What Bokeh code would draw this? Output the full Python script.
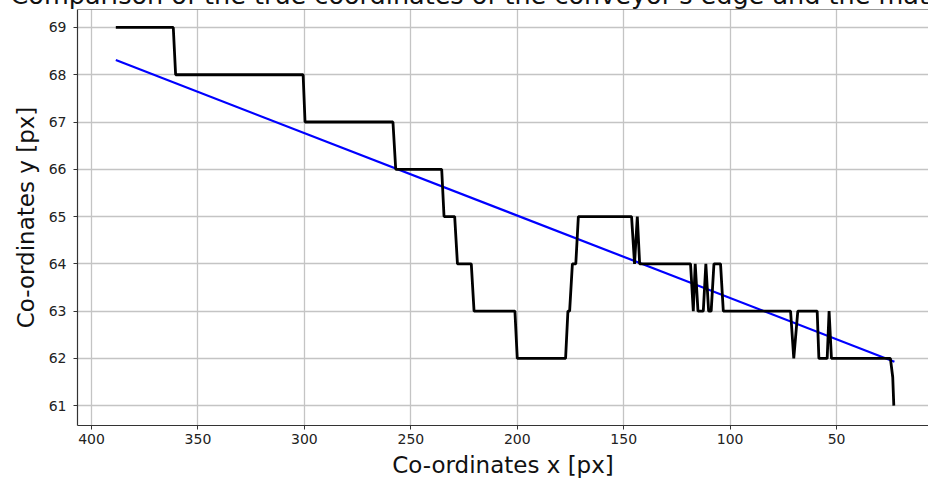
from bokeh.plotting import figure
from bokeh.models import Range1d, FixedTicker, Span
from bokeh.embed import file_html
from bokeh.resources import INLINE

# True co-ordinates of the conveyor edge (step-like trace)
true_x = [388.6, 361.6, 360.5, 300.6, 299.7, 258.4, 257.1, 235.5, 234.4, 229.4,
          228.1, 221.6, 220.3, 201.1, 200.0, 177.3, 176.2, 175.4, 174.1, 172.5,
          171.3, 146.3, 144.9, 143.6, 142.5, 118.6, 117.3, 116.4, 115.1, 112.6,
          111.4, 110.1, 108.9, 107.6, 104.5, 103.2, 71.6, 70.1, 68.2, 59.1,
          58.3, 54.4, 53.5, 52.4, 24.7, 23.6, 23.1]
true_y = [69, 69, 68, 68, 67, 67, 66, 66, 65, 65,
          64, 64, 63, 63, 62, 62, 63, 63, 64, 64,
          65, 65, 64, 65, 64, 64, 63, 64, 63, 63,
          64, 63, 63, 64, 64, 63, 63, 62, 63, 63,
          62, 62, 63, 62, 62, 61.6, 61]

# Fitted line
fit_x = [388.6, 22.8]
fit_y = [68.31, 61.93]

x_ticks = [400, 350, 300, 250, 200, 150, 100, 50]
y_ticks = [61, 62, 63, 64, 65, 66, 67, 68, 69]

title_text = "Comparison of the true coordinates of the conveyor's edge and the mathematical model"

HIDDEN = 31  # part of the canvas above the window (title is cut off there)

p = figure(width=928, height=480 + HIDDEN, output_backend="svg", toolbar_location=None,
           x_range=Range1d(406.6, 6.8), y_range=Range1d(60.58, 69.38),
           min_border_left=77, min_border_right=0, min_border_top=9 + HIDDEN,
           min_border_bottom=53, styles={"margin-top": f"-{HIDDEN}px"})

p.title.text = title_text
p.title.text_font = "DejaVu Sans"
p.title.text_font_size = "25.5px"
p.title.text_font_style = "normal"
p.title.text_color = "#111111"
p.title.align = "left"
p.title.offset = -67
p.title.standoff = 0

p.outline_line_color = None
p.background_fill_color = "white"
p.border_fill_color = "white"

p.line(fit_x, fit_y, line_color="#0000ff", line_width=2.2)
p.line(true_x, true_y, line_color="#000000", line_width=2.8)

p.add_layout(Span(location=69.38, dimension="width", line_color="#333333", line_width=1.2))

for ax in (p.xaxis[0], p.yaxis[0]):
    ax.axis_line_color = "#333333"
    ax.axis_line_width = 1.2
    ax.major_tick_line_color = "#333333"
    ax.major_tick_in = 0
    ax.major_tick_out = 4
    ax.minor_tick_line_color = None
    ax.major_label_text_font = "DejaVu Sans"
    ax.major_label_text_font_size = "14px"
    ax.major_label_text_color = "#222222"
    ax.axis_label_text_font = "DejaVu Sans"
    ax.axis_label_text_font_size = "23px"
    ax.axis_label_text_font_style = "normal"
    ax.axis_label_text_color = "#111111"

p.xaxis.ticker = FixedTicker(ticks=x_ticks)
p.yaxis.ticker = FixedTicker(ticks=y_ticks)
p.xaxis.axis_label = "Co-ordinates x [px]"
p.yaxis.axis_label = "Co-ordinates y [px]"
p.xaxis.major_label_standoff = 4
p.yaxis.major_label_standoff = 7
p.xaxis.axis_label_standoff = 5
p.yaxis.axis_label_standoff = 7

p.xgrid.ticker = FixedTicker(ticks=x_ticks)
p.ygrid.ticker = FixedTicker(ticks=y_ticks)
p.grid.grid_line_color = "#c4c4c4"
p.grid.grid_line_width = 1.3

open("out.html", "w").write(file_html(p, INLINE))
